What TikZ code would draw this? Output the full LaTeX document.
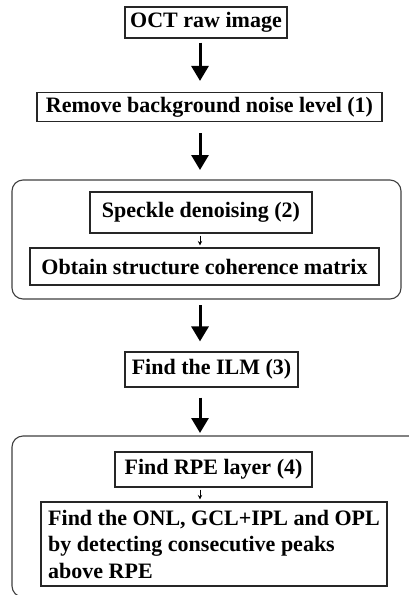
\documentclass[tikz,border=0pt]{standalone}
\usepackage{fontspec}
\setmainfont{Liberation Serif}
\usetikzlibrary{arrows.meta}
\begin{document}
\begin{tikzpicture}[x=1pt,y=-1pt,
  stepbox/.style={draw=black!85, line width=1.1pt, inner sep=0pt,
    font=\fontsize{22}{26.5}\selectfont\bfseries, text=black},
  groupbox/.style={draw=black!75, line width=1.1pt, rounded corners=11pt},
  bigarrow/.style={line width=3pt, -{Triangle[width=17pt,length=15pt]}},
  smallarrow/.style={line width=0.7pt, -{Stealth[width=4.5pt,length=4.5pt]}}]
\clip (0,0) rectangle (409,595);
\fill[white] (0,0) rectangle (409,595);
\coordinate (ax) at (200,0);
% outer groups
\draw[groupbox] (12,180) rectangle (401,299);
\coordinate (g1n) at (200,180);
\coordinate (g1s) at (200,299);
\draw[groupbox] (12,436) rectangle (450,597);
\coordinate (g2n) at (200,436);
% boxes
\node[stepbox, minimum width=162pt, minimum height=31pt] (oct) at (206,22.5) {OCT raw image};
\node[stepbox, minimum width=345pt, minimum height=29pt] (remove) at (209.5,107) {Remove background noise level (1)};
\node[stepbox, minimum width=222pt, minimum height=41pt] (speckle) at (201,212.5) {Speckle denoising (2)};
\node[stepbox, minimum width=349pt, minimum height=37pt] (obtain) at (204.5,266.5) {Obtain structure coherence matrix};
\node[stepbox, minimum width=173pt, minimum height=35pt] (ilm) at (211.5,369.5) {Find the ILM (3)};
\node[stepbox, minimum width=197pt, minimum height=35pt] (rpe) at (213.5,469.5) {Find RPE layer (4)};
\node[stepbox, minimum width=346pt, minimum height=84pt, align=left] (onl) at (214,544) {Find the ONL, GCL+IPL and OPL\\by detecting consecutive peaks\\above RPE};
% arrows
\draw[bigarrow, shorten <=4pt, shorten >=11pt] (ax |- oct.south) -- (ax |- remove.north);
\draw[bigarrow, shorten <=11pt, shorten >=10pt] (ax |- remove.south) -- (g1n);
\draw[smallarrow, shorten <=2pt, shorten >=2pt] (ax |- speckle.south) -- (ax |- obtain.north);
\draw[bigarrow, shorten <=6pt, shorten >=10pt] (g1s) -- (ax |- ilm.north);
\draw[bigarrow, shorten <=10pt, shorten >=3pt] (ax |- ilm.south) -- (g2n);
\draw[smallarrow, shorten <=2pt, shorten >=2pt] (ax |- rpe.south) -- (ax |- onl.north);
\end{tikzpicture}
\end{document}
